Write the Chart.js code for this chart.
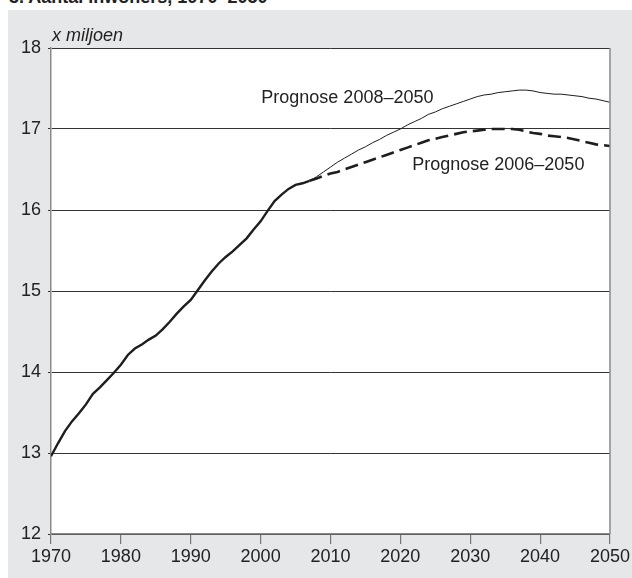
<!DOCTYPE html>
<html>
<head>
<meta charset="utf-8">
<script src="https://cdn.jsdelivr.net/npm/chart.js@4/dist/chart.umd.min.js"></script>
<style>
	body { margin: 0; background: #fff; width: 632px; height: 578px; overflow: hidden; position: relative; }
	#title { position: absolute; left: 9px; top: -13px; font: bold 18px 'Liberation Sans', Arial, sans-serif; color: #222; white-space: nowrap; }
	#panel { position: absolute; left: 8px; top: 10px; width: 624px; height: 568px; background: #e6e7e8; }
</style>
</head>
<body>
<div id="title">3. Aantal inwoners, 1970–2050</div>
<div id="panel"><canvas id="canvas" width="624" height="568"></canvas></div>
<script>
var FONT = "'Liberation Sans', Arial, sans-serif";

var yearsHist = [1970, 1971, 1972, 1973, 1974, 1975, 1976, 1977, 1978, 1979,
	1980, 1981, 1982, 1983, 1984, 1985, 1986, 1987, 1988, 1989,
	1990, 1991, 1992, 1993, 1994, 1995, 1996, 1997, 1998, 1999,
	2000, 2001, 2002, 2003, 2004, 2005, 2006, 2007];
var valuesHist = [12.96, 13.12, 13.27, 13.39, 13.49, 13.60, 13.73, 13.81, 13.90, 13.99,
	14.09, 14.21, 14.29, 14.34, 14.40, 14.45, 14.53, 14.62, 14.72, 14.81,
	14.89, 15.01, 15.13, 15.24, 15.34, 15.42, 15.49, 15.57, 15.65, 15.76,
	15.86, 15.99, 16.11, 16.19, 16.26, 16.31, 16.33, 16.36];

var yearsProg = [2007, 2008, 2009, 2010, 2011, 2012, 2013, 2014, 2015, 2016,
	2017, 2018, 2019, 2020, 2021, 2022, 2023, 2024, 2025, 2026,
	2027, 2028, 2029, 2030, 2031, 2032, 2033, 2034, 2035, 2036,
	2037, 2038, 2039, 2040, 2041, 2042, 2043, 2044, 2045, 2046,
	2047, 2048, 2049, 2050];
var valuesProg2008 = [16.36, 16.41, 16.47, 16.53, 16.59, 16.64, 16.69, 16.74, 16.78, 16.83,
	16.87, 16.92, 16.96, 17.00, 17.05, 17.09, 17.13, 17.18, 17.21, 17.25,
	17.28, 17.31, 17.34, 17.37, 17.40, 17.42, 17.43, 17.45, 17.46, 17.47,
	17.48, 17.48, 17.47, 17.45, 17.44, 17.43, 17.43, 17.42, 17.41, 17.40,
	17.38, 17.37, 17.35, 17.33];
var valuesProg2006 = [16.36, 16.39, 16.42, 16.45, 16.47, 16.50, 16.53, 16.56, 16.59, 16.62,
	16.65, 16.68, 16.71, 16.74, 16.77, 16.80, 16.83, 16.86, 16.88, 16.90,
	16.92, 16.94, 16.96, 16.97, 16.98, 16.99, 17.00, 17.00, 17.00, 17.00,
	16.99, 16.97, 16.95, 16.94, 16.92, 16.91, 16.90, 16.89, 16.87, 16.85,
	16.83, 16.81, 16.80, 16.79];

var yTicks = [12, 13, 14, 15, 16, 17, 18];
var xTicks = [1970, 1980, 1990, 2000, 2010, 2020, 2030, 2040, 2050];

// labels placed in data units: [text, year, value]
var lineLabels = [
	['Prognose 2008–2050', 2000.1, 17.32],
	['Prognose 2006–2050', 2021.7, 16.49]
];

function points(xs, ys) {
	var out = [];
	for (var i = 0; i < xs.length; i++) {
		out.push({x: xs[i], y: ys[i]});
	}
	return out;
}

var plotBox = {
	id: 'plotBox',
	beforeDraw: function (chart) {
		var a = chart.chartArea, ctx = chart.ctx;
		ctx.save();
		ctx.fillStyle = '#ffffff';
		ctx.fillRect(a.left, a.top, a.right - a.left, a.bottom - a.top);
		ctx.restore();
	},
	afterDraw: function (chart) {
		var a = chart.chartArea, ctx = chart.ctx;
		var xs = chart.scales.x, ys = chart.scales.y;
		ctx.save();
		ctx.strokeStyle = '#8a8a8a';
		ctx.lineWidth = 1.5;
		ctx.beginPath();
		ctx.moveTo(a.right, a.top);
		ctx.lineTo(a.right, a.bottom);
		ctx.stroke();
		ctx.fillStyle = '#222';
		ctx.font = 'italic 18px ' + FONT;
		ctx.textBaseline = 'alphabetic';
		ctx.fillText('x miljoen', a.left + 1, a.top - 7);
		ctx.font = '18px ' + FONT;
		lineLabels.forEach(function (l) {
			ctx.fillText(l[0], xs.getPixelForValue(l[1]), ys.getPixelForValue(l[2]));
		});
		ctx.restore();
	}
};

var config = {
	type: 'line',
	data: {
		datasets: [{
			label: 'Waarneming',
			data: points(yearsHist, valuesHist),
			borderColor: '#1e1e1e',
			borderWidth: 2.4,
			pointRadius: 0,
			tension: 0
		}, {
			label: 'Prognose 2008–2050',
			data: points(yearsProg, valuesProg2008),
			borderColor: '#1e1e1e',
			borderWidth: 1,
			pointRadius: 0,
			tension: 0
		}, {
			label: 'Prognose 2006–2050',
			data: points(yearsProg, valuesProg2006),
			borderColor: '#1e1e1e',
			borderWidth: 2.6,
			borderDash: [13, 6],
			pointRadius: 0,
			tension: 0
		}]
	},
	options: {
		responsive: false,
		animation: false,
		layout: {
			padding: {top: 38, right: 21, left: 0, bottom: 0}
		},
		plugins: {
			legend: {display: false},
			title: {display: false},
			tooltip: {enabled: false}
		},
		scales: {
			x: {
				type: 'linear',
				min: 1970,
				max: 2050,
				afterBuildTicks: function (scale) {
					scale.ticks = xTicks.map(function (v) { return {value: v}; });
				},
				afterFit: function (scale) { scale.height = 44; },
				grid: {drawOnChartArea: false, tickLength: 10, color: '#777', lineWidth: 1.2},
				border: {color: '#8a8a8a', width: 1.5},
				ticks: {
					font: {family: FONT, size: 18},
					color: '#222',
					padding: 2,
					maxRotation: 0,
					callback: function (v) { return String(v); }
				}
			},
			y: {
				min: 12,
				max: 18,
				afterBuildTicks: function (scale) {
					scale.ticks = yTicks.map(function (v) { return {value: v}; });
				},
				afterFit: function (scale) { scale.width = 43; },
				grid: {color: '#333', lineWidth: 1, tickLength: 3},
				border: {color: '#8a8a8a', width: 1.5},
				ticks: {
					font: {family: FONT, size: 18},
					color: '#222',
					padding: 7
				}
			}
		}
	},
	plugins: [plotBox]
};

window.onload = function () {
	window.myLine = new Chart(document.getElementById('canvas'), config);
};
</script>
</body>
</html>
